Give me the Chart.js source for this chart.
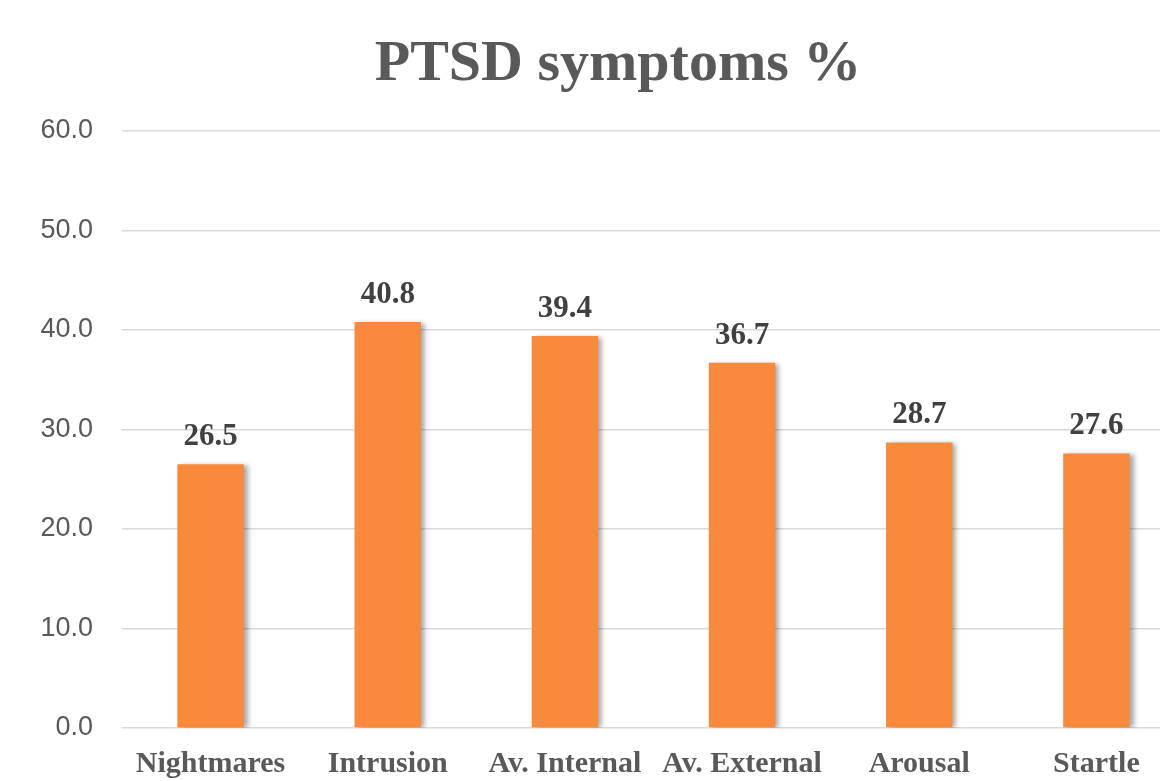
<!DOCTYPE html>
<html>
<head>
<meta charset="utf-8">
<script src="https://cdn.jsdelivr.net/npm/chart.js@4.4.0/dist/chart.umd.min.js"></script>
<style>
  html, body { margin: 0; padding: 0; background: #ffffff; overflow: hidden; }
  #wrap { width: 1190px; height: 781px; position: relative; }
</style>
</head>
<body>
<div id="wrap"><canvas id="ptsd_chart"></canvas></div>
<script>
var categories = ["Nightmares", "Intrusion", "Av. Internal", "Av. External", "Arousal", "Startle"];
var symptomValues = [26.5, 40.8, 39.4, 36.7, 28.7, 27.6];
var yTicks = [0, 10, 20, 30, 40, 50, 60];
var chartTitle = 'PTSD symptoms %';

var serif = "'Liberation Serif', 'DejaVu Serif', serif";

// soft shadow to the right of the bars, like the original
var barShadow = {
    id: 'barShadow',
    beforeDatasetsDraw: function (chart) {
        var c = chart.ctx;
        c.save();
        c.shadowColor = 'rgba(0,0,0,0.35)';
        c.shadowBlur = 5;
        c.shadowOffsetX = 4;
        c.shadowOffsetY = 1;
    },
    afterDatasetsDraw: function (chart) {
        chart.ctx.restore();
    }
};

// value labels above each bar + the title (original title sits right of canvas centre)
var valueLabels = {
    id: 'valueLabels',
    afterDraw: function (chart) {
        var c = chart.ctx;
        var meta = chart.getDatasetMeta(0);
        c.save();
        c.font = "bold 31px " + serif;
        c.fillStyle = '#404040';
        c.textAlign = 'center';
        c.textBaseline = 'alphabetic';
        meta.data.forEach(function (bar, i) {
            c.fillText(symptomValues[i].toFixed(1), bar.x, bar.y - 19);
        });

        c.font = "bold 58px " + serif;
        c.fillStyle = '#595959';
        c.fillText(chartTitle, 618, 80);
        c.restore();
    }
};

var ctx = document.getElementById("ptsd_chart").getContext('2d');
var ptsdChart = new Chart(ctx, {
    type: 'bar',
    data: {
        labels: categories,
        datasets: [
            {
                label: chartTitle,
                data: symptomValues,
                backgroundColor: '#F9893B',
                borderWidth: 0,
                barPercentage: 0.375,
                categoryPercentage: 1.0
            }
        ]
    },
    options: {
        responsive: true,
        maintainAspectRatio: false,
        animation: false,
        events: [],
        plugins: {
            legend: { display: false },
            tooltip: { enabled: false },
            title: { display: false }
        },
        layout: {
            padding: { top: 131, left: 14, right: 5, bottom: 0 }
        },
        scales: {
            x: {
                grid: { display: false },
                border: { display: false },
                afterFit: function (axis) { axis.height = 53; },
                ticks: {
                    color: '#595959',
                    font: { family: serif, size: 30, weight: 'bold' },
                    padding: 10,
                    maxRotation: 0,
                    autoSkip: false
                }
            },
            y: {
                min: 0,
                max: 60,
                afterBuildTicks: function (axis) {
                    axis.ticks = yTicks.map(function (v) { return { value: v }; });
                },
                afterFit: function (axis) { axis.width = 108; },
                grid: { color: '#d9d9d9', lineWidth: 1.5, drawTicks: false },
                border: { display: false },
                ticks: {
                    color: '#595959',
                    font: { family: "'Liberation Sans', Arial, sans-serif", size: 27 },
                    padding: 29,
                    callback: function (v) { return Number(v).toFixed(1); }
                }
            }
        }
    },
    plugins: [barShadow, valueLabels]
});
</script>
</body>
</html>
